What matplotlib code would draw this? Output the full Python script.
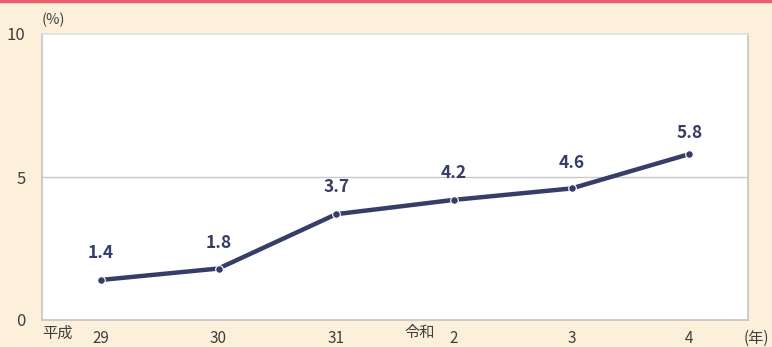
import numpy as np
import matplotlib
matplotlib.use('Agg')
import matplotlib.pyplot as plt

plt.rcParams['font.family'] = ['Noto Sans CJK JP', 'DejaVu Sans']

years = ['29', '30', '31', '2', '3', '4']
rate = [1.4, 1.8, 3.7, 4.2, 4.6, 5.8]
yticks = [0, 5, 10]

bg = '#fdf0da'
navy = '#363e68'
grey = '#404040'

fig = plt.figure(figsize=(7.72, 3.47), dpi=100, facecolor=bg)
W, H = 772, 347
ax = fig.add_axes([42/W, 1-320/H, (748-42)/W, (320-34)/H])
ax.set_facecolor('white')

x = np.arange(len(years))
ax.plot(x, rate, color=navy, lw=3.2, marker='o', ms=5.5, mec='white', mew=0.8,
        solid_capstyle='round', zorder=3)
# value labels; the last one sits a little closer to the line
lift = [13, 12, 13, 13, 12, 9]
for xi, v, dy in zip(x, rate, lift):
    ax.annotate(f'{v:.1f}', (xi, v), xytext=(0, dy), textcoords='offset points',
                ha='center', va='bottom', fontsize=12.5, fontweight='semibold', color=navy)

ax.set_xlim(-0.5, len(years) - 0.5)
ax.set_ylim(0, 10)
ax.set_yticks(yticks)
ax.set_yticklabels([str(t) for t in yticks], fontsize=12, color=grey)
ax.tick_params(axis='y', length=0, pad=12)
ax.set_xticks(x)
ax.set_xticklabels(years, fontsize=11, color=grey)
ax.tick_params(axis='x', length=0, pad=7)
ax.axhline(5, color='#c8c8c8', lw=1, zorder=1)
for s in ax.spines.values():
    s.set_color('#c4c4c4')
    s.set_linewidth(1.2)
ax.spines['top'].set_color('#e0e0e0')

fig.text(42/W, 1-20/H, '(%)', fontsize=10.5, color=grey, va='center', ha='left')
fig.text(42/W, 1-333/H, '平成', fontsize=11, color=grey, va='center', ha='left')
fig.text(404/W, 1-333/H, '令和', fontsize=11, color=grey, va='center', ha='left')
fig.text(744/W, 1-338/H, '(年)', fontsize=11, color=grey, va='center', ha='left')

# accent rule along the top edge
fig.add_artist(plt.Line2D([0, 1], [1-1/H, 1-1/H], color='#e8606e', lw=2.5))

fig.savefig('out.png', dpi=100, facecolor=bg)
